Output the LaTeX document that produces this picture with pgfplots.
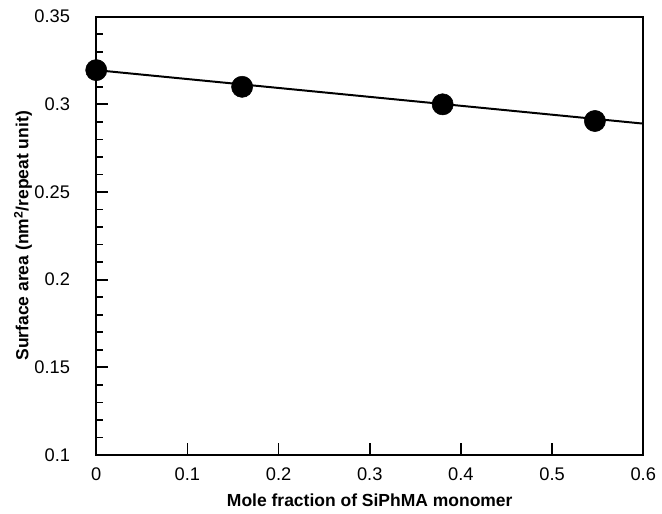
\documentclass[border=0pt]{standalone}
\usepackage{pgfplots}
\pgfplotsset{compat=1.18}
\usepackage{fontspec}
\setmainfont{Liberation Sans}
\begin{document}
\fontsize{13.8}{16}\selectfont
\begin{tikzpicture}
\begin{axis}[
    scale only axis,
    width=413pt, height=331pt,
    xmin=0, xmax=0.6, ymin=0.1, ymax=0.35,
    xtick={0,0.1,...,0.6},
    ytick={0.1,0.15,...,0.35},
    minor y tick num=4,
    xtick pos=bottom, ytick pos=left,
    axis line style={line width=1.5pt},
    tick align=inside,
    major tick length=9pt, minor tick length=5pt,
    every tick/.style={black, line width=1.3pt},
    /pgf/number format/assume math mode=true,
    /pgf/number format/fixed,
    /pgf/number format/precision=2,
    yticklabel style={xshift=-15pt},
    xticklabel style={yshift=-5pt},
    xlabel={\textbf{Mole fraction of SiPhMA monomer}},
    ylabel={\textbf{Surface area (nm\textsuperscript{2}/repeat unit)}},
    label style={font=\fontsize{13.2}{15}\selectfont},
    xlabel style={at={(axis description cs:0.5,-0.104)}, anchor=center},
    ylabel style={at={(axis description cs:-0.134,0.5)}, anchor=center},
    clip=false,
]
\addplot[black, line width=1.5pt] coordinates {(0,0.3195) (0.6,0.289)};
\addplot[only marks, mark=*, mark size=8pt, black] coordinates {
    (0,0.3195) (0.16,0.31) (0.38,0.30) (0.547,0.2905)};
\path (axis description cs:-0.176,-0.122) rectangle (axis description cs:1.025,1.038);
\end{axis}
\end{tikzpicture}
\end{document}
